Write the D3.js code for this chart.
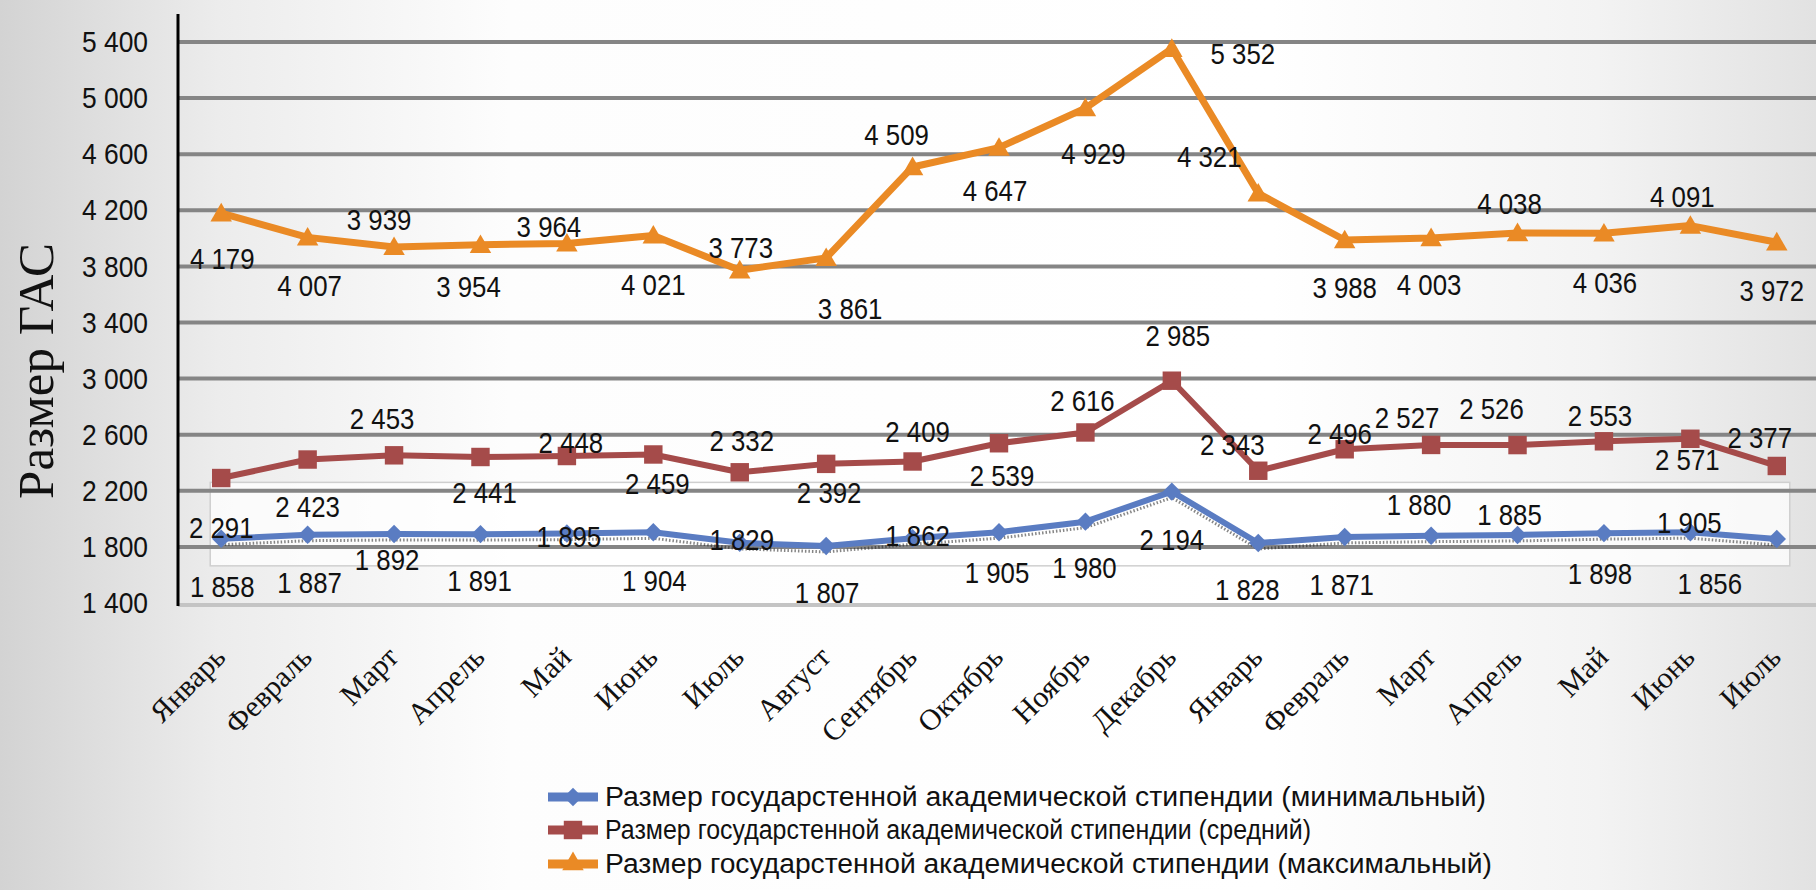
<!DOCTYPE html>
<html><head><meta charset="utf-8">
<script src="https://cdn.jsdelivr.net/npm/d3@7"></script>
<style>html,body{margin:0;padding:0;overflow:hidden;background:#fff}</style>
</head><body>
<svg id="chart" width="1816" height="890"></svg>
<script>
const months = ["Январь","Февраль","Март","Апрель","Май","Июнь","Июль","Август","Сентябрь","Октябрь","Ноябрь","Декабрь","Январь","Февраль","Март","Апрель","Май","Июнь","Июль"];
const minValues = [1858,1887,1892,1891,1895,1904,1829,1807,1862,1905,1980,2194,1828,1871,1880,1885,1898,1905,1856];
const avgValues = [2291,2423,2453,2441,2448,2459,2332,2392,2409,2539,2616,2985,2343,2496,2527,2526,2553,2571,2377];
const maxValues = [4179,4007,3939,3954,3964,4021,3773,3861,4509,4647,4929,5352,4321,3988,4003,4038,4036,4091,3972];
const yTicks = [1400,1800,2200,2600,3000,3400,3800,4200,4600,5000,5400];
const seriesNames = [
  "Размер государстенной академической стипендии (минимальный)",
  "Размер государстенной академической стипендии (средний)",
  "Размер государстенной академической стипендии (максимальный)"
];
const yTitle = "Размер ГАС";
// label offsets (px) relative to each point, as placed in the original
const minLabelOffset = [[1,48],[2,48],[-7,26],[-1,46],[2,3],[1,48],[2,-3],[1,47],[5,-3],[-2,40],[-1,46],[0,48],[-11,47],[-3,48],[-12,-31],[-8,-20],[-4,40],[-1,-10],[-67,44]];
const avgLabelOffset = [[0,49],[0,47],[-12,-37],[4,36],[4,-14],[4,29],[2,-32],[3,29],[5,-30],[3,32],[-3,-32],[6,-45],[-26,-26],[-5,-16],[-24,-27],[-26,-37],[-4,-26],[-3,21],[-17,-28]];
const maxLabelOffset = [[1,45],[2,48],[-15,-27],[-12,42],[-18,-17],[0,49],[1,-23],[24,51],[-16,-32],[-4,43],[8,45],[71,5],[-49,-37],[0,47],[-2,47],[-8,-30],[1,49],[-8,-29],[-5,48]];

const svg = d3.select("#chart");
const W = 1816, H = 890;
const plot = {left:178, right:1820, top:42, bottom:603};
const numFont = "'Liberation Sans',Arial,sans-serif";
const serifFont = "'Liberation Serif','Times New Roman',serif";
function narrow(sel, k){ sel.each(function(){ const L=this.getComputedTextLength(); d3.select(this).attr("textLength",L*k).attr("lengthAdjust","spacingAndGlyphs"); }); }

// background gradient
const defs = svg.append("defs");
const bg = defs.append("linearGradient").attr("id","bg").attr("x1","0").attr("x2","1").attr("y1","0").attr("y2","0");
[[0,"#d3d3d3"],[0.12,"#ececec"],[0.28,"#fdfdfd"],[0.7,"#ffffff"],[0.88,"#f3f3f3"],[1,"#e2e2e2"]].forEach(([o,c])=>bg.append("stop").attr("offset",o).attr("stop-color",c));
svg.append("rect").attr("width",W).attr("height",H).attr("fill","url(#bg)");

const x = d3.scalePoint().domain(d3.range(months.length)).range([plot.left, plot.right]).padding(0.5);
const y = d3.scaleLinear().domain([1400,5400]).range([plot.bottom, plot.top]);

// inner highlight box around minimal series
const bx0 = x(0)-11, bx1 = x(months.length-1)+13;
svg.append("rect").attr("x",bx0).attr("y",y(2260)).attr("width",bx1-bx0).attr("height",y(1665)-y(2260))
  .attr("fill","#ffffff").attr("fill-opacity",0.75).attr("stroke","#cfcfcf").attr("stroke-width",1.5);

// gridlines
svg.append("g").selectAll("line").data(yTicks.filter(t=>t>1400)).join("line")
  .attr("x1",plot.left).attr("x2",W).attr("y1",d=>y(d)).attr("y2",d=>y(d))
  .attr("stroke","#858585").attr("stroke-width",4);

// bottom axis
svg.append("line").attr("x1",plot.left).attr("x2",W).attr("y1",y(1400)+2).attr("y2",y(1400)+2)
  .attr("stroke","#c4c4c4").attr("stroke-width",4);
// left axis
svg.append("line").attr("x1",plot.left).attr("x2",plot.left).attr("y1",14).attr("y2",y(1400)+3)
  .attr("stroke","#000").attr("stroke-width",3);

// y tick labels via d3 axis
const fmt = v => d3.format(",")(v).replace(/,/g," ");
const yAxis = svg.append("g").attr("transform",`translate(${plot.left},0)`)
  .call(d3.axisLeft(y).tickValues(yTicks).tickSize(0).tickPadding(30).tickFormat(fmt));
yAxis.select(".domain").remove();
yAxis.selectAll("text").attr("font-family",numFont).attr("font-size",30).attr("fill","#111").call(narrow,0.88);

// y title
svg.append("text").attr("transform","translate(53,371) rotate(-90)").attr("text-anchor","middle")
  .attr("font-family",serifFont).attr("font-size",51).attr("fill","#111").text(yTitle);

// x labels
svg.append("g").selectAll("text").data(months).join("text")
  .attr("transform",(d,i)=>`translate(${x(i)+6},659) rotate(-45)`)
  .attr("text-anchor","end").attr("font-family",serifFont).attr("font-size",30).attr("fill","#111")
  .text(d=>d);

const series = [
  {vals:minValues, color:"#5A7CC2", sym:"diamond", width:6, offs:minLabelOffset},
  {vals:avgValues, color:"#A54B4A", sym:"square", width:6, offs:avgLabelOffset},
  {vals:maxValues, color:"#EA8A25", sym:"triangle", width:7, offs:maxLabelOffset}
];
function symbolPath(kind){
  if(kind==="triangle") return d3.symbol(d3.symbolTriangle, 200)();
  if(kind==="square") return d3.symbol(d3.symbolSquare, 340)();
  return d3.symbol(d3.symbolSquare, 170)();
}
const line = d3.line().x((d,i)=>x(i)).y(d=>y(d));

// dotted shadow under min line
svg.append("path").datum(minValues).attr("d",line).attr("transform","translate(0,6)")
  .attr("fill","none").attr("stroke","#222").attr("stroke-width",3).attr("stroke-dasharray","1.5 2").attr("opacity",0.55);

series.forEach(s=>{
  svg.append("path").datum(s.vals).attr("d",line).attr("fill","none")
    .attr("stroke",s.color).attr("stroke-width",s.width).attr("stroke-linejoin","round");
  svg.append("g").selectAll("path").data(s.vals).join("path")
    .attr("d",symbolPath(s.sym))
    .attr("transform",(d,i)=>`translate(${x(i)},${y(d)})${s.sym==="diamond"?" rotate(45)":""}${s.sym==="triangle"?" translate(0,2)":""}`)
    .attr("fill",s.color);
});
series.forEach(s=>{
  svg.append("g").selectAll("text").data(s.vals).join("text")
    .attr("x",(d,i)=>x(i)+s.offs[i][0]).attr("y",(d,i)=>y(d)+s.offs[i][1])
    .attr("text-anchor","middle").attr("dominant-baseline","central")
    .attr("font-family",numFont).attr("font-size",30).attr("fill","#111")
    .text(d=>fmt(d)).call(narrow,0.86);
});

// legend
const legY = [797,830,864];
series.forEach((s,k)=>{
  const g = svg.append("g").attr("transform",`translate(548,${legY[k]})`);
  g.append("line").attr("x1",0).attr("x2",50).attr("y1",0).attr("y2",0).attr("stroke",s.color).attr("stroke-width",9);
  g.append("path").attr("d",symbolPath(s.sym)).attr("transform",`translate(25,0)${s.sym==="diamond"?" rotate(45)":""}`).attr("fill",s.color);
  g.append("text").attr("x",57).attr("y",0).attr("dominant-baseline","central")
    .attr("font-family",numFont).attr("font-size",27).attr("fill","#111")
    .attr("textLength",[881,706,887][k]).attr("lengthAdjust","spacingAndGlyphs")
    .text(seriesNames[k]);
});
</script>
</body></html>
